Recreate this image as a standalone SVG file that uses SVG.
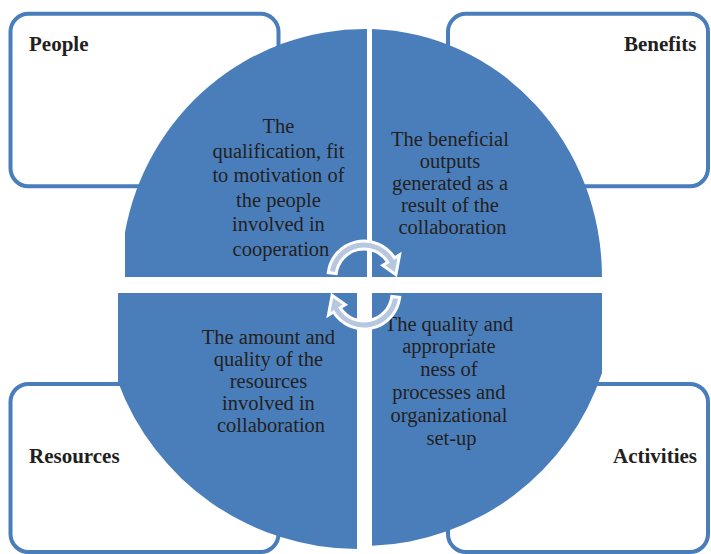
<svg xmlns="http://www.w3.org/2000/svg" xmlns:xlink="http://www.w3.org/1999/xlink" width="711" height="554" viewBox="0 0 711 554">
<style>
.box{fill:#ffffff;stroke:#4a7ebb;stroke-width:4}
.lbl{font-family:"Liberation Serif","Times New Roman",serif;font-size:21px;font-weight:bold;fill:#231f20}
.quad{fill:#4a7ebb}
.qt{font-family:"Liberation Serif","Times New Roman",serif;font-size:20.5px;fill:#231f20;text-anchor:middle}
.cyc{fill:#b7c7df;stroke:#ffffff;stroke-width:3;stroke-linejoin:miter}
</style>
<defs>
<path id="cycArrow" d="M328.27,272.61 A36,36 0 0 1 394.53,257.92 L399.62,254.74 L395.92,274.77 L382.66,265.34 L387.75,262.16 A28,28 0 0 0 336.21,273.59 Z"/>
</defs>
<rect width="711" height="554" fill="#ffffff"/>
<g id="node-people">
<rect class="box" x="10.5" y="13.8" width="268" height="172.5" rx="18"/>
<text class="lbl" x="29" y="51">People</text>
</g>
<g id="node-benefits">
<rect class="box" x="448" y="13.8" width="260" height="172.5" rx="18"/>
<text class="lbl" x="624" y="51">Benefits</text>
</g>
<g id="node-resources">
<rect class="box" x="10.5" y="384" width="268" height="168" rx="18"/>
<text class="lbl" x="29" y="463">Resources</text>
</g>
<g id="node-activities">
<rect class="box" x="448" y="384" width="260" height="168" rx="18"/>
<text class="lbl" x="613" y="463">Activities</text>
</g>
<g id="quad-people">
<path class="quad" d="M367,277 L125,277 L125,232.3 A244,248 0 0 1 367,29.01 Z"/>
<text class="qt">
<tspan x="281" y="133">The</tspan>
<tspan x="281" y="157.5">qualification, fit</tspan>
<tspan x="281" y="182">to motivation of</tspan>
<tspan x="281" y="206.5">the people</tspan>
<tspan x="281" y="231">involved in</tspan>
<tspan x="281" y="255.5">cooperation</tspan>
</text>
</g>
<g id="quad-benefits">
<path class="quad" d="M372,277 L372,29.1 A237,248 0 0 1 602,277 Z"/>
<text class="qt">
<tspan x="452.5" y="145.5">The beneficial</tspan>
<tspan x="452.5" y="167.5">outputs</tspan>
<tspan x="452.5" y="189.5">generated as a</tspan>
<tspan x="452.5" y="211.5">result of the</tspan>
<tspan x="452.5" y="233.5">collaboration</tspan>
</text>
</g>
<g id="quad-resources">
<path class="quad" d="M357,293 L357,549 A256,256 0 0 1 118,382.1 L118,293 Z"/>
<text class="qt">
<tspan x="271" y="344">The amount and</tspan>
<tspan x="271" y="366">quality of the</tspan>
<tspan x="271" y="388">resources</tspan>
<tspan x="271" y="409.5">involved in</tspan>
<tspan x="271" y="431.5">collaboration</tspan>
</text>
</g>
<g id="quad-activities">
<path class="quad" d="M372,293 L602,293 L602,373 A253,253 0 0 1 372,545.8 Z"/>
<text class="qt">
<tspan x="451.5" y="330.5">The quality and</tspan>
<tspan x="451.5" y="353">appropriate</tspan>
<tspan x="451.5" y="376">ness of</tspan>
<tspan x="451.5" y="399">processes and</tspan>
<tspan x="451.5" y="422">organizational</tspan>
<tspan x="451.5" y="444.5">set-up</tspan>
</text>
</g>
<g id="connectors">
<use xlink:href="#cycArrow" class="cyc"/>
<use xlink:href="#cycArrow" class="cyc" transform="rotate(180 364 285)"/>
</g>
</svg>
